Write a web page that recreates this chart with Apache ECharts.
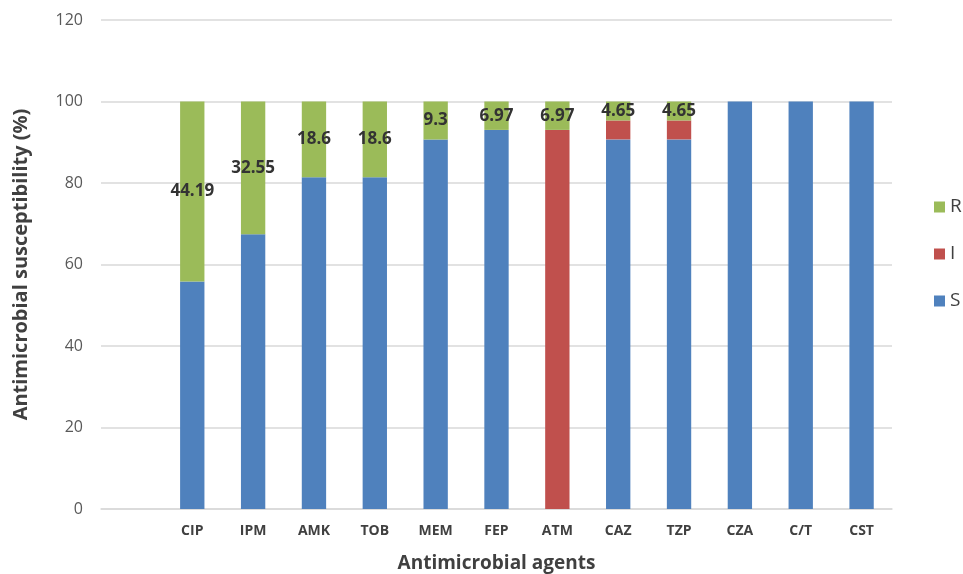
<!DOCTYPE html>
<html>
<head>
<meta charset="utf-8">
<script src="https://cdn.jsdelivr.net/npm/echarts@6/dist/echarts.min.js"></script>
<style>html,body{margin:0;padding:0;background:#fff;}#c{width:963px;height:574px;}</style>
</head>
<body>
<div id="c"></div>
<script>
const categories = ['', 'CIP', 'IPM', 'AMK', 'TOB', 'MEM', 'FEP', 'ATM', 'CAZ', 'TZP', 'CZA', 'C/T', 'CST'];
const sValues = [null, 55.81, 67.45, 81.4, 81.4, 90.7, 93.03, 0, 90.7, 90.7, 100, 100, 100];
const iValues = [null, 0, 0, 0, 0, 0, 0, 93.03, 4.65, 4.65, 0, 0, 0];
const rValues = [null, 44.19, 32.55, 18.6, 18.6, 9.3, 6.97, 6.97, 4.65, 4.65, 0, 0, 0];
const yTicks = [0, 20, 40, 60, 80, 100, 120];

const FONT = '"Open Sans", "Noto Sans", sans-serif';
const chart = echarts.init(document.getElementById('c'));
const barW = '40%';
chart.setOption({
  animation: false,
  backgroundColor: '#fff',
  grid: { left: 101, right: 71, top: 20, bottom: 65, containLabel: false, outerBoundsMode: 'none' },
  legend: {
    orient: 'vertical', left: 929, top: 192,
    data: ['R', 'I', 'S'],
    itemWidth: 11, itemHeight: 11, itemGap: 27, icon: 'rect',
    textStyle: { fontFamily: FONT, fontSize: 19, color: '#404040', lineHeight: 20 }
  },
  xAxis: {
    type: 'category', data: categories,
    name: 'Antimicrobial agents', nameLocation: 'middle', nameGap: 45,
    nameTextStyle: { fontFamily: FONT, fontSize: 19, fontWeight: 'bold', color: '#404040' },
    axisLine: { show: true, lineStyle: { color: '#d9d9d9', width: 1.5 } },
    axisTick: { show: false },
    axisLabel: { fontFamily: FONT, fontSize: 14, fontWeight: 'bold', color: '#404040', margin: 15, interval: 0 }
  },
  yAxis: {
    type: 'value', min: yTicks[0], max: yTicks[yTicks.length - 1], interval: 20,
    name: 'Antimicrobial susceptibility (%)', nameLocation: 'middle', nameGap: 70,
    nameTextStyle: { fontFamily: FONT, fontSize: 20, fontWeight: 'bold', color: '#404040' },
    axisLine: { show: false }, axisTick: { show: false },
    axisLabel: { fontFamily: FONT, fontSize: 16, color: '#595959', margin: 18 },
    splitLine: { lineStyle: { color: '#d9d9d9', width: 1.5 } }
  },
  series: [
    { name: 'S', type: 'bar', stack: 'a', data: sValues, barWidth: barW, itemStyle: { color: '#4F81BD' } },
    { name: 'I', type: 'bar', stack: 'a', data: iValues, barWidth: barW, itemStyle: { color: '#C0504D' } },
    { name: 'R', type: 'bar', stack: 'a', data: rValues, barWidth: barW, itemStyle: { color: '#9BBB59' },
      label: {
        show: true, position: 'inside',
        formatter: p => (p.value ? String(p.value) : ''),
        fontFamily: FONT, fontSize: 17, fontWeight: 'bold', color: '#333'
      }
    }
  ]
});
</script>
</body>
</html>
